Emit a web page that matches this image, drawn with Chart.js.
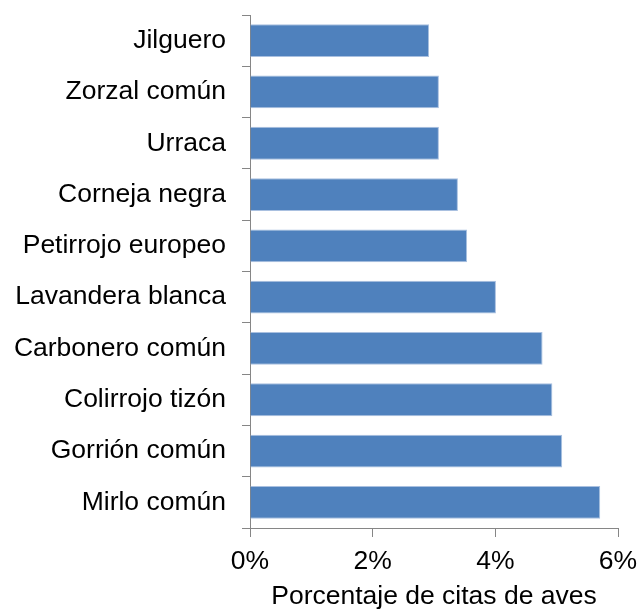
<!DOCTYPE html>
<html lang="en">
<head>
<meta charset="UTF-8">
<title>Citas de aves</title>
<script src="https://cdn.jsdelivr.net/npm/chart.js"></script>
<style>
  body { margin: 0; background: #fff; }
  #wrap { width: 638px; height: 610px; }
</style>
</head>
<body>
<div id="wrap"><canvas id="myChart" width="638" height="610"></canvas></div>
<script>
    const species = ["Jilguero", "Zorzal común", "Urraca", "Corneja negra", "Petirrojo europeo",
        "Lavandera blanca", "Carbonero común", "Colirrojo tizón", "Gorrión común", "Mirlo común"];
    const percent = [2.92, 3.08, 3.08, 3.39, 3.54, 4.01, 4.77, 4.93, 5.09, 5.71];
    const xTicks = [0, 2, 4, 6];

    const axisColor = "#868686";
    const font = "Arial, 'Liberation Sans', sans-serif";

    new Chart(document.getElementById("myChart"), {
        type: "bar",
        data: {
            labels: species,
            datasets: [{
                data: percent,
                backgroundColor: "#4f81bd",
                borderColor: "#a9c0e0",
                borderWidth: 1,
                borderSkipped: "left",
                categoryPercentage: 1,
                barPercentage: 0.64
            }]
        },
        options: {
            indexAxis: "y",
            responsive: false,
            animation: false,
            layout: { padding: { top: 15, right: 20, left: 0, bottom: 0 } },
            plugins: { legend: { display: false }, tooltip: { enabled: false } },
            scales: {
                x: {
                    min: xTicks[0],
                    max: xTicks[xTicks.length - 1],
                    afterBuildTicks: (s) => { s.ticks = xTicks.map(v => ({ value: v })); },
                    grid: { drawOnChartArea: false, color: axisColor, tickLength: 9, tickColor: axisColor },
                    border: { color: axisColor, width: 1 },
                    ticks: {
                        callback: (v) => v + "%",
                        color: "#000",
                        font: { family: font, size: 26.5 },
                        padding: 9
                    },
                    title: {
                        display: true,
                        text: "Porcentaje de citas de aves",
                        color: "#000",
                        font: { family: font, size: 26.5, lineHeight: 1 },
                        padding: { top: 0, bottom: 0 }
                    },
                    afterFit: (s) => { s.height = 82; s.paddingLeft = 0; s.paddingRight = 0; }
                },
                y: {
                    grid: { drawOnChartArea: false, color: axisColor, tickLength: 8, tickColor: axisColor, offset: true },
                    border: { color: axisColor, width: 1 },
                    ticks: {
                        color: "#000",
                        font: { family: font, size: 26.5 },
                        padding: 16,
                        autoSkip: false
                    },
                    afterFit: (s) => { s.width = 250; s.paddingTop = 0; s.paddingBottom = 0; }
                }
            }
        }
    });
</script>
</body>
</html>
